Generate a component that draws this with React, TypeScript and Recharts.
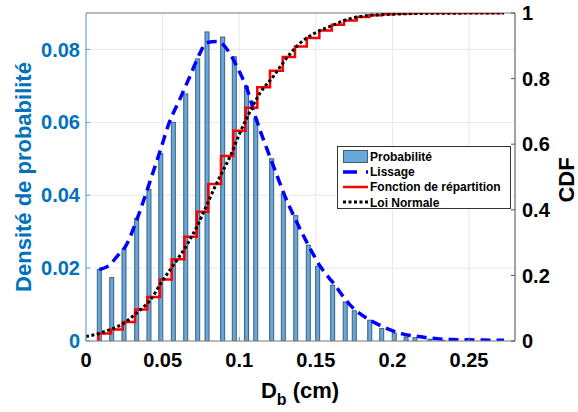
import React from "react";
import {
  ComposedChart,
  Bar,
  Line,
  XAxis,
  YAxis,
  CartesianGrid,
  ReferenceLine,
  Legend
} from "recharts";

// histogramme (centres des classes en cm, densité)
const binCenters = [
  0.0087, 0.0168, 0.0248, 0.0331, 0.0411, 0.0488, 0.057, 0.0651, 0.0729, 0.079,
  0.0892, 0.0968, 0.1048, 0.1108, 0.1212, 0.1288, 0.1369, 0.1451, 0.1512, 0.161,
  0.1692, 0.1751, 0.1852, 0.193, 0.2012, 0.2089, 0.2147, 0.2245, 0.2328
];
const probability = [
  0.0196, 0.0174, 0.0253, 0.0337, 0.0416, 0.0514, 0.06, 0.0678, 0.0774, 0.0848,
  0.0834, 0.078, 0.0698, 0.061, 0.05, 0.0405, 0.0344, 0.0263, 0.0205, 0.0153,
  0.0107, 0.0083, 0.0057, 0.0034, 0.0022, 0.0011, 0.0009, 0.0005, 0.0002
];

// lissage (densité estimée)
const smoothX = [
  0.0087, 0.0152, 0.0204, 0.0261, 0.0331, 0.037, 0.0418, 0.0494, 0.0537, 0.0614,
  0.0679, 0.0744, 0.0783, 0.0853, 0.0896, 0.0951, 0.0994, 0.1049, 0.1114, 0.1179,
  0.1245, 0.1288, 0.1353, 0.1408, 0.1451, 0.1495, 0.1527, 0.1581, 0.1625, 0.1679,
  0.1723, 0.1788, 0.1854, 0.1919, 0.1995, 0.2071, 0.2158, 0.2245, 0.2387, 0.2528,
  0.2728
];
const smoothY = [
  0.0196, 0.0208, 0.0233, 0.0262, 0.0332, 0.0378, 0.0438, 0.0535, 0.0592, 0.0665,
  0.0727, 0.079, 0.0818, 0.0822, 0.0813, 0.078, 0.0745, 0.0694, 0.0605, 0.0529,
  0.0456, 0.0408, 0.0346, 0.0298, 0.0263, 0.0229, 0.0206, 0.0176, 0.0153, 0.0122,
  0.0099, 0.0075, 0.0057, 0.0043, 0.0029, 0.0019, 0.0013, 0.0008, 0.0004, 0.0003,
  0.0002
];

// fonction de répartition empirique
const ecdfX = [
  0.0081, 0.0081, 0.0163, 0.024, 0.032, 0.04, 0.0483, 0.0559, 0.0642, 0.0723,
  0.0798, 0.0881, 0.0961, 0.1041, 0.1118, 0.1201, 0.1284, 0.1364, 0.1441, 0.1523,
  0.1604, 0.1684, 0.1767, 0.1849, 0.193, 0.201, 0.2089, 0.2147, 0.2728
];
const ecdfY = [
  0, 0.023, 0.035, 0.058, 0.096, 0.134, 0.1875, 0.249, 0.318, 0.394,
  0.479, 0.564, 0.641, 0.711, 0.774, 0.824, 0.866, 0.898, 0.924, 0.947,
  0.964, 0.977, 0.988, 0.993, 0.996, 0.998, 0.999, 1, 1
];

// loi normale (CDF)
const normalX = [
  0, 0.0037, 0.0157, 0.0243, 0.0331, 0.0418, 0.0494, 0.057, 0.0657, 0.0723,
  0.0788, 0.0853, 0.0896, 0.094, 0.0994, 0.1059, 0.1136, 0.1222, 0.131, 0.1397,
  0.1495, 0.1593, 0.1702, 0.1832, 0.1984, 0.2245, 0.2728
];
const normalY = [
  0.014, 0.017, 0.035, 0.053, 0.086, 0.124, 0.18, 0.231, 0.292, 0.348,
  0.414, 0.481, 0.521, 0.562, 0.623, 0.689, 0.756, 0.806, 0.863, 0.908,
  0.939, 0.959, 0.98, 0.992, 0.996, 0.999, 1
];

const xTicks = [0, 0.05, 0.1, 0.15, 0.2, 0.25];
const densityTicks = [0, 0.02, 0.04, 0.06, 0.08];
const cdfTicks = [0, 0.2, 0.4, 0.6, 0.8, 1];

const barData = binCenters.map((x, i) => ({ x, p: probability[i] }));
const smoothData = smoothX.map((x, i) => ({ x, y: smoothY[i] }));
const ecdfData = ecdfX.map((x, i) => ({ x, y: ecdfY[i] }));
const normalData = normalX.map((x, i) => ({ x, y: normalY[i] }));

const BLUE = "#0072BD";
const BAR_FILL = "#68a8d8";
const BAR_EDGE = "#3b5f80";
const tickStyle = { fontSize: 20, fontWeight: "bold", fill: "#000" };

// barre étroite centrée sur la classe
function ThinBar(props: any) {
  const { x, y, width, height } = props;
  if (height == null || height <= 0) return null;
  const cx = x + width / 2;
  return (
    <rect
      x={cx - 2}
      y={y}
      width={4}
      height={height}
      fill={BAR_FILL}
      stroke={BAR_EDGE}
      strokeWidth={1}
    />
  );
}

function LegendBox() {
  const rows = [
    "Probabilité",
    "Lissage",
    "Fonction de répartition",
    "Loi Normale"
  ];
  return (
    <svg width={174} height={63} style={{ display: "block" }}>
      <rect x={0.5} y={0.5} width={173} height={62} fill="#fff" stroke="#333" />
      <rect x={6.5} y={4.5} width={24} height={12} fill={BAR_FILL} stroke={BAR_EDGE} />
      <line x1={6} x2={31} y1={26} y2={26} stroke="#0000ff" strokeWidth={3.5} strokeDasharray="14 9" />
      <line x1={6} x2={31} y1={41} y2={41} stroke="#ff0000" strokeWidth={2.5} />
      <line x1={6} x2={31} y1={56} y2={56} stroke="#000" strokeWidth={3} strokeDasharray="3 2.5" />
      {rows.map((r, i) => (
        <text
          key={r}
          x={33}
          y={11 + i * 15.2}
          dominantBaseline="central"
          fontSize={12}
          fontWeight="bold"
          fill="#000"
        >
          {r}
        </text>
      ))}
    </svg>
  );
}

export default function App() {
  return (
    <div
      style={{
        position: "fixed",
        left: 0,
        top: 0,
        width: 578,
        height: 412,
        background: "#fff",
        fontFamily: "'Liberation Sans', Arial, sans-serif"
      }}
    >
      <ComposedChart
        width={578}
        height={412}
        data={barData}
        margin={{ top: 13, right: 23, bottom: 31, left: 26 }}
      >
        <CartesianGrid yAxisId="left" stroke="#e4e8ec" />
        <XAxis
          dataKey="x"
          type="number"
          domain={[0, 0.28]}
          allowDataOverflow
          ticks={xTicks}
          height={40}
          tick={tickStyle}
          tickSize={-4}
          tickMargin={16}
          axisLine={{ stroke: "#808080" }}
          tickLine={{ stroke: "#808080" }}
          label={{
            content: () => (
              <text x={300} y={398} textAnchor="middle" fontSize={22} fontWeight="bold" fill="#000">
                D
                <tspan dy={7} fontSize={16}>b</tspan>
                <tspan dy={-7}> (cm)</tspan>
              </text>
            )
          }}
        />
        <YAxis
          yAxisId="left"
          type="number"
          domain={[0, 0.09]}
          allowDataOverflow
          ticks={densityTicks}
          width={60}
          tick={{ ...tickStyle, fill: BLUE }}
          tickSize={-4}
          tickMargin={10}
          axisLine={{ stroke: "#5a9fd4" }}
          tickLine={{ stroke: "#5a9fd4" }}
          label={{
            content: () => (
              <text
                x={23}
                y={177}
                transform="rotate(-90 23 177)"
                textAnchor="middle"
                dominantBaseline="central"
                fontSize={22}
                fontWeight="bold"
                fill={BLUE}
              >
                Densité de probabilité
              </text>
            )
          }}
        />
        <YAxis
          yAxisId="right"
          orientation="right"
          type="number"
          domain={[0, 1]}
          allowDataOverflow
          ticks={cdfTicks}
          width={40}
          tick={tickStyle}
          tickSize={-4}
          tickMargin={11}
          axisLine={{ stroke: "#555" }}
          tickLine={{ stroke: "#555" }}
          label={{
            content: () => (
              <text
                x={566}
                y={180}
                transform="rotate(-90 566 180)"
                textAnchor="middle"
                dominantBaseline="central"
                fontSize={22}
                fontWeight="bold"
                fill="#000"
              >
                CDF
              </text>
            )
          }}
        />
        <ReferenceLine yAxisId="left" y={0.09} stroke="#808080" />
        <Bar
          yAxisId="left"
          dataKey="p"
          barSize={4}
          fill={BAR_FILL}
          shape={ThinBar}
          isAnimationActive={false}
        />
        <Line
          yAxisId="left"
          data={smoothData}
          dataKey="y"
          type="monotone"
          stroke="#0000ff"
          strokeWidth={3.5}
          strokeDasharray="10 6"
          dot={false}
          isAnimationActive={false}
        />
        <Line
          yAxisId="right"
          data={ecdfData}
          dataKey="y"
          type="stepAfter"
          stroke="#ff0000"
          strokeWidth={2.5}
          dot={false}
          isAnimationActive={false}
        />
        <Line
          yAxisId="right"
          data={normalData}
          dataKey="y"
          type="monotone"
          stroke="#000"
          strokeWidth={3}
          strokeDasharray="3 2.5"
          dot={false}
          isAnimationActive={false}
        />
        <Legend
          layout="vertical"
          align="center"
          verticalAlign="middle"
          content={() => <LegendBox />}
          wrapperStyle={{ left: 337, top: 146, width: 174, height: 63 }}
        />
      </ComposedChart>
    </div>
  );
}
